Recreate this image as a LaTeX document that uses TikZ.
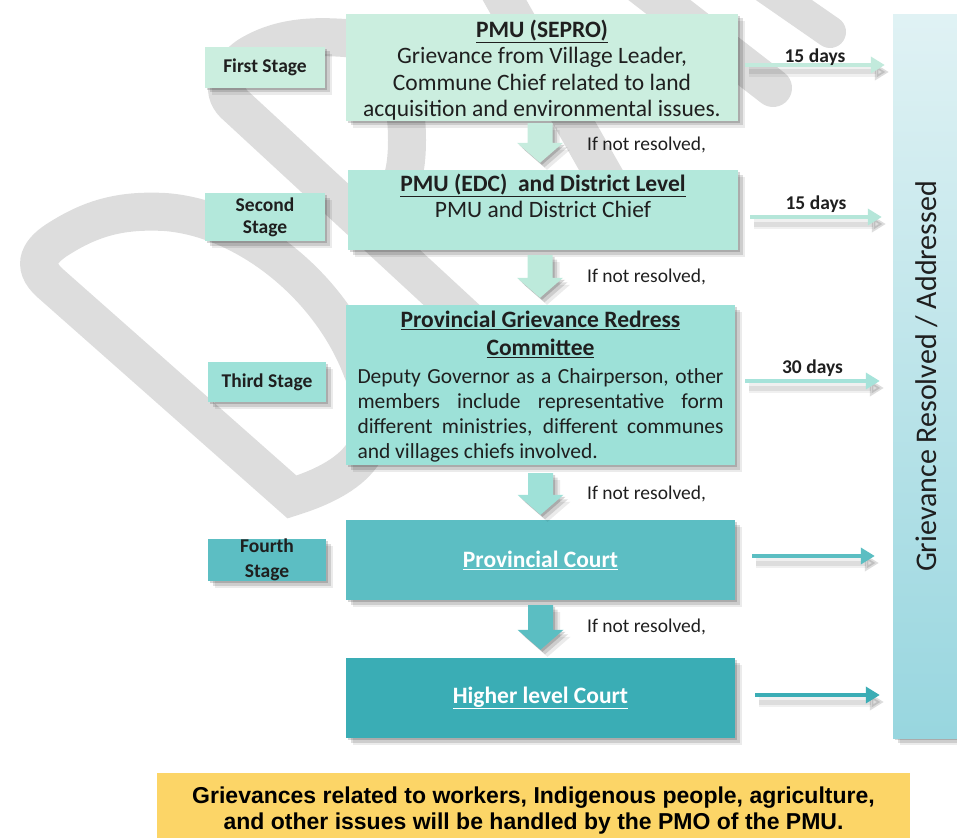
\documentclass[tikz,border=0pt]{standalone}
\usepackage{fontspec}
\setmainfont{Carlito}
\newfontfamily\arialfont{Liberation Sans}
\usetikzlibrary{calc,shadows,arrows.meta}

\definecolor{wm}{HTML}{DDDDDD}
\definecolor{c1}{HTML}{CBEEDF}
\definecolor{c2}{HTML}{B3E8DB}
\definecolor{c3}{HTML}{9DE1D8}
\definecolor{c4}{HTML}{5CBEC3}
\definecolor{c5}{HTML}{3AADB5}
\definecolor{dc1}{HTML}{C6ECDE}
\definecolor{dc2}{HTML}{BDEADB}
\definecolor{dc3}{HTML}{9FE1D8}
\definecolor{dc4}{HTML}{5BBEC2}
\definecolor{hc1}{HTML}{C2EADC}
\definecolor{hc2}{HTML}{B5E6D9}
\definecolor{hc3}{HTML}{A6E3DA}
\definecolor{hc4}{HTML}{5BBEC2}
\definecolor{hc5}{HTML}{3BADB5}
\definecolor{rtop}{HTML}{E0F2F4}
\definecolor{rbot}{HTML}{98D6DF}
\definecolor{ylw}{HTML}{FCD567}
\definecolor{txt}{HTML}{1F1F1F}

\newcommand\ftBoxT{\fontsize{23.5pt}{26.5pt}\selectfont}
\newcommand\ftBodyT{\fontsize{21.5pt}{25pt}\selectfont}
\newcommand\ftStageT{\bfseries\fontsize{19.5pt}{22pt}\selectfont}
\newcommand\ftSmallT{\fontsize{19.5pt}{22pt}\selectfont}
\newcommand\ftResT{\fontsize{30pt}{33pt}\selectfont}
\newcommand\ftNoteT{\arialfont\bfseries\fontsize{23pt}{26pt}\selectfont}

\newcommand\downarr[3]{%
  \fill[#3] let \p1=(#1), \p2=(#2) in
    (\x1-12.5pt,\y1) -- (\x1+12.5pt,\y1) -- (\x1+12.5pt,\y2+20pt) -- (\x1+23pt,\y2+20pt)
    -- (\x1,\y2) -- (\x1-23pt,\y2+20pt) -- (\x1-12.5pt,\y2+20pt) -- cycle;}

\begin{document}
\begin{tikzpicture}[x=1pt,y=-1pt,
  shd/.style={drop shadow={shadow xshift=2pt,shadow yshift=-2pt,opacity=.16,fill=black},
              drop shadow={shadow xshift=4.5pt,shadow yshift=-4.5pt,opacity=.13,fill=black},
              drop shadow={shadow xshift=7pt,shadow yshift=-7pt,opacity=.08,fill=black}},
  wmk/.style={draw=wm, line width=38pt, line join=miter},
  stagebox/.style={shd, inner sep=0pt, align=center, text=txt, font=\ftStageT, minimum width=120pt},
  mainbox/.style={shd, inner sep=0pt, align=center, text=txt, font=\ftBoxT},
  boxtext/.style={font=\ftBoxT, text=txt, align=center, inner sep=0pt},
  nres/.style={anchor=west, font=\ftSmallT, text=txt, inner sep=0pt},
  dlab/.style={font=\ftStageT, text=txt, inner sep=0pt},
  harr/.style={line width=4.5pt, -{Triangle[length=14pt,width=16pt]},
     preaction={draw=black, opacity=.06, line width=10pt, transform canvas={xshift=4pt,yshift=-7pt}},
     preaction={draw=black, opacity=.08, line width=5pt, transform canvas={xshift=4pt,yshift=-7pt}}},
  darr/.style={shd, fill=#1}
]
\useasboundingbox (0,0) rectangle (957,837);
\clip (0,0) rectangle (957,837);

% watermark
\draw[wmk] (171,390) -- (50,283) .. controls (30,265) and (40,250) .. (60,238)
   .. controls (95,216) and (125,210) .. (165,212)
   .. controls (245,218) and (330,285) .. (362,370)
   .. controls (392,440) and (362,475) .. (292,497) -- cycle;
\draw[wmk] (470,322) -- (234,104) .. controls (220,90) and (228,70) .. (248,56)
   .. controls (280,36) and (315,36) .. (345,38)
   .. controls (385,42) and (407,80) .. (407,140)
   .. controls (407,185) and (395,200) .. (380,205);
\draw[wmk] (496,-15) -- (615,195);
\draw[wmk, line cap=round] (640,-15) -- (773,88);
\draw[wmk, line cap=round, line width=32pt] (755,-20) -- (830,32);

% stage labels
\node[stagebox, fill=c1, minimum height=41pt] (s1) at (265,67.5) {First Stage};
\node[stagebox, fill=c2, minimum height=48pt] (s2) at (265,217) {Second\\Stage};
\node[stagebox, fill=c3, minimum width=118pt, minimum height=40pt] (s3) at (267,382) {Third Stage};
\node[stagebox, fill=c4, minimum width=118pt, minimum height=40pt] (s4) at (267,560) {Fourth\\[3pt]Stage};

% main boxes
\node[mainbox, fill=c1, minimum width=392pt, minimum height=107pt] (b1) at (542,67.5) {};
\node[boxtext] (b1t) at ($(b1.center)+(0,2.5)$)
  {\underline{\textbf{PMU (SEPRO)}}\\Grievance from Village Leader,\\Commune Chief related to land\\acquisition and environmental issues.};
\node[mainbox, fill=c2, minimum width=390pt, minimum height=80pt] (b2) at (543,210) {};
\node[boxtext, anchor=north] (b2t) at ($(b2.north)+(0,4)$)
  {\underline{\textbf{PMU (EDC)\ \ and District Level}}\\PMU and District Chief};
\node[mainbox, fill=c3, minimum width=389pt, minimum height=160pt] (b3) at (540.5,385) {};
\node[boxtext, anchor=north] (b3t) at ($(b3.north)+(0,6)$)
  {\underline{\textbf{Provincial Grievance Redress}}\\[2pt]\underline{\textbf{Committee}}};
\node[anchor=north, font=\ftBodyT, text=txt, align=left, inner sep=0pt] (b3b) at ($(b3t.south)+(0,10)$)
  {\makebox[366pt][s]{Deputy Governor as a Chairperson, other}\\
   \makebox[366pt][s]{members include representative form}\\
   \makebox[366pt][s]{different ministries, different communes}\\
   \makebox[366pt][l]{and villages chiefs involved.}};
\node[mainbox, fill=c4, minimum width=389pt, minimum height=80pt, text=white] (b4) at (540.5,560)
  {\underline{\textbf{Provincial Court}}};
\node[mainbox, fill=c5, minimum width=389pt, minimum height=80pt, text=white] (b5) at (540.5,698)
  {\underline{\textbf{Higher level Court}}};

% resolved column
\node[shd, top color=rtop, bottom color=rbot, minimum width=66pt, minimum height=723pt, inner sep=0pt] (res) at (926,376.5) {};
\node[rotate=90, font=\ftResT, text=txt, inner sep=0pt] (rest) at ($(res.center)+(1,0)$) {Grievance Resolved / Addressed};

% down arrows
\coordinate (a1t) at ($(b1.south)+(-2,2)$);
\coordinate (a1b) at ($(b2.north)+(-3,-7)$);
\coordinate (a2t) at ($(b2.south)+(-3,5)$);
\coordinate (a2b) at ($(b3.north)+(0,-7)$);
\coordinate (a3t) at ($(b3.south)+(0,8)$);
\coordinate (a3b) at ($(b4.north)+(0,-5)$);
\coordinate (a4t) at ($(b4.south)+(0,5)$);
\coordinate (a4b) at ($(b5.north)+(0,-8)$);
\downarr{a1t}{a1b}{darr=dc1}
\downarr{a2t}{a2b}{darr=dc2}
\downarr{a3t}{a3b}{darr=dc3}
\downarr{a4t}{a4b}{darr=dc4}
\node[nres] (n1) at (587,145) {If not resolved,};
\node[nres] (n2) at (587,277) {If not resolved,};
\node[nres] (n3) at (587,494) {If not resolved,};
\node[nres] (n4) at (587,627) {If not resolved,};

% horizontal arrows
\draw[harr, draw=hc1] ($(b1.east)+(7,-2.5)$) -- ($(res.west |- b1.east)+(-8,-2.5)$)
  node[midway, above=-3pt, dlab] (d1) {15 days};
\draw[harr, draw=hc2] ($(b2.east)+(12,7)$) -- ($(res.west |- b2.east)+(-11,7)$)
  node[midway, above=2pt, dlab] (d2) {15 days};
\draw[harr, draw=hc3] ($(b3.east)+(10,-4)$) -- ($(res.west |- b3.east)+(-13,-4)$)
  node[midway, above=2pt, dlab] (d3) {30 days};
\draw[harr, draw=hc4] ($(b4.east)+(17,-4)$) -- ($(res.west |- b4.east)+(-18,-4)$);
\draw[harr, draw=hc5] ($(b5.east)+(20,-3)$) -- ($(res.west |- b5.east)+(-13,-3)$);

% bottom note
\node[fill=ylw, minimum width=753pt, minimum height=76pt, inner sep=0pt, font=\ftNoteT, align=center, text=black] (note) at (533.5,811)
  {Grievances related to workers, Indigenous people, agriculture,\\and other issues will be handled by the PMO of the PMU.};
\end{tikzpicture}
\end{document}
